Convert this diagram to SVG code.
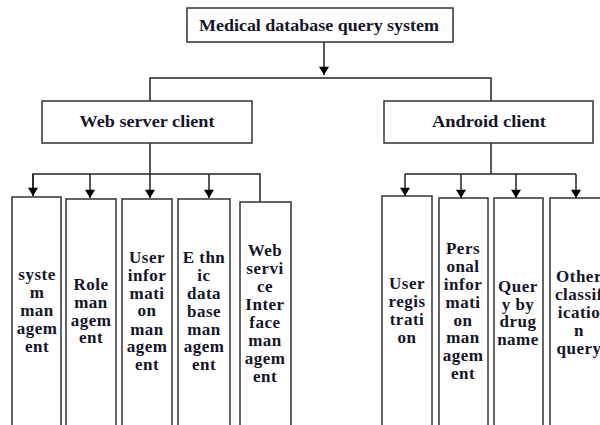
<svg xmlns="http://www.w3.org/2000/svg" width="600" height="425" viewBox="0 0 600 425">
<style>
.box{fill:#fff;stroke:#333;stroke-width:1.5}
.t{font-family:"Liberation Serif","Times New Roman",serif;font-weight:bold;font-size:17px;fill:#14142a;text-anchor:middle;letter-spacing:0.5px}
.h{letter-spacing:0}
.ln{fill:none;stroke:#222;stroke-width:1.5}
</style>
<defs>
<marker id="ah" viewBox="0 0 10 12" refX="10" refY="6" markerWidth="12" markerHeight="10" markerUnits="userSpaceOnUse" orient="auto">
<path d="M0,0 L10,6 L0,12 Z" fill="#000"/>
</marker>
</defs>
<rect width="600" height="425" fill="#fff"/>
<g id="connectors">
<path class="ln" d="M324,42 V75" marker-end="url(#ah)"/>
<path class="ln" d="M150,101 V78 H491 V101"/>
<path class="ln" d="M150,143 V174"/>
<path class="ln" d="M33,196 V174 H260 V202"/>
<path class="ln" d="M33,174 V196" marker-end="url(#ah)"/>
<path class="ln" d="M90,174 V198" marker-end="url(#ah)"/>
<path class="ln" d="M150,174 V198" marker-end="url(#ah)"/>
<path class="ln" d="M209,174 V198" marker-end="url(#ah)"/>
<path class="ln" d="M491,143 V174"/>
<path class="ln" d="M405,174 H576"/>
<path class="ln" d="M405,174 V196" marker-end="url(#ah)"/>
<path class="ln" d="M461,174 V198" marker-end="url(#ah)"/>
<path class="ln" d="M516,174 V198" marker-end="url(#ah)"/>
<path class="ln" d="M576,174 V198" marker-end="url(#ah)"/>
</g>
<g id="root">
<rect class="box" x="187" y="8" width="266" height="34"/>
<text class="t h" x="319" y="31" textLength="240" lengthAdjust="spacingAndGlyphs">Medical database query system</text>
</g>
<g id="web">
<rect class="box" x="42" y="101" width="210" height="42"/>
<text class="t h" x="147" y="127" textLength="135" lengthAdjust="spacingAndGlyphs">Web server client</text>
</g>
<g id="android">
<rect class="box" x="384" y="101" width="209" height="42"/>
<text class="t h" x="489" y="127" textLength="114" lengthAdjust="spacingAndGlyphs">Android client</text>
</g>
<g id="w1">
<rect class="box" x="12" y="197" width="49" height="240"/>
<text class="t"><tspan x="37" y="280">syste</tspan><tspan x="37" y="298">m</tspan><tspan x="37" y="316">man</tspan><tspan x="37" y="334">agem</tspan><tspan x="37" y="352">ent</tspan></text>
</g>
<g id="w2">
<rect class="box" x="66" y="199" width="50" height="240"/>
<text class="t"><tspan x="91" y="290">Role</tspan><tspan x="91" y="308">man</tspan><tspan x="91" y="326">agem</tspan><tspan x="91" y="343">ent</tspan></text>
</g>
<g id="w3">
<rect class="box" x="122" y="199" width="50" height="240"/>
<text class="t"><tspan x="147" y="263">User</tspan><tspan x="147" y="281">infor</tspan><tspan x="147" y="299">mati</tspan><tspan x="147" y="316">on</tspan><tspan x="147" y="335">man</tspan><tspan x="147" y="352">agem</tspan><tspan x="147" y="370">ent</tspan></text>
</g>
<g id="w4">
<rect class="box" x="178" y="199" width="52" height="240"/>
<text class="t"><tspan x="204" y="263">E thn</tspan><tspan x="204" y="281">ic</tspan><tspan x="204" y="299">data</tspan><tspan x="204" y="317">base</tspan><tspan x="204" y="335">man</tspan><tspan x="204" y="352">agem</tspan><tspan x="204" y="370">ent</tspan></text>
</g>
<g id="w5">
<rect class="box" x="240" y="202" width="51" height="240"/>
<text class="t"><tspan x="265" y="256">Web</tspan><tspan x="265" y="274">servi</tspan><tspan x="265" y="292">ce</tspan><tspan x="265" y="310">Inter</tspan><tspan x="265" y="328">face</tspan><tspan x="265" y="346">man</tspan><tspan x="265" y="364">agem</tspan><tspan x="265" y="382">ent</tspan></text>
</g>
<g id="a1">
<rect class="box" x="382" y="196" width="50" height="240"/>
<text class="t"><tspan x="407" y="289">User</tspan><tspan x="407" y="307">regis</tspan><tspan x="407" y="325">trati</tspan><tspan x="407" y="343">on</tspan></text>
</g>
<g id="a2">
<rect class="box" x="439" y="198" width="49" height="240"/>
<text class="t"><tspan x="463" y="254">Pers</tspan><tspan x="463" y="272">onal</tspan><tspan x="463" y="290">infor</tspan><tspan x="463" y="308">mati</tspan><tspan x="463" y="326">on</tspan><tspan x="463" y="343">man</tspan><tspan x="463" y="361">agem</tspan><tspan x="463" y="379">ent</tspan></text>
</g>
<g id="a3">
<rect class="box" x="494" y="198" width="49" height="240"/>
<text class="t"><tspan x="518" y="292">Quer</tspan><tspan x="518" y="310">y by</tspan><tspan x="518" y="327">drug</tspan><tspan x="518" y="345">name</tspan></text>
</g>
<g id="a4">
<rect class="box" x="550" y="198" width="60" height="240"/>
<text class="t"><tspan x="579" y="282">Other</tspan><tspan x="579" y="300">classif</tspan><tspan x="579" y="318">icatio</tspan><tspan x="579" y="336">n</tspan><tspan x="579" y="354">query</tspan></text>
</g>
</svg>
